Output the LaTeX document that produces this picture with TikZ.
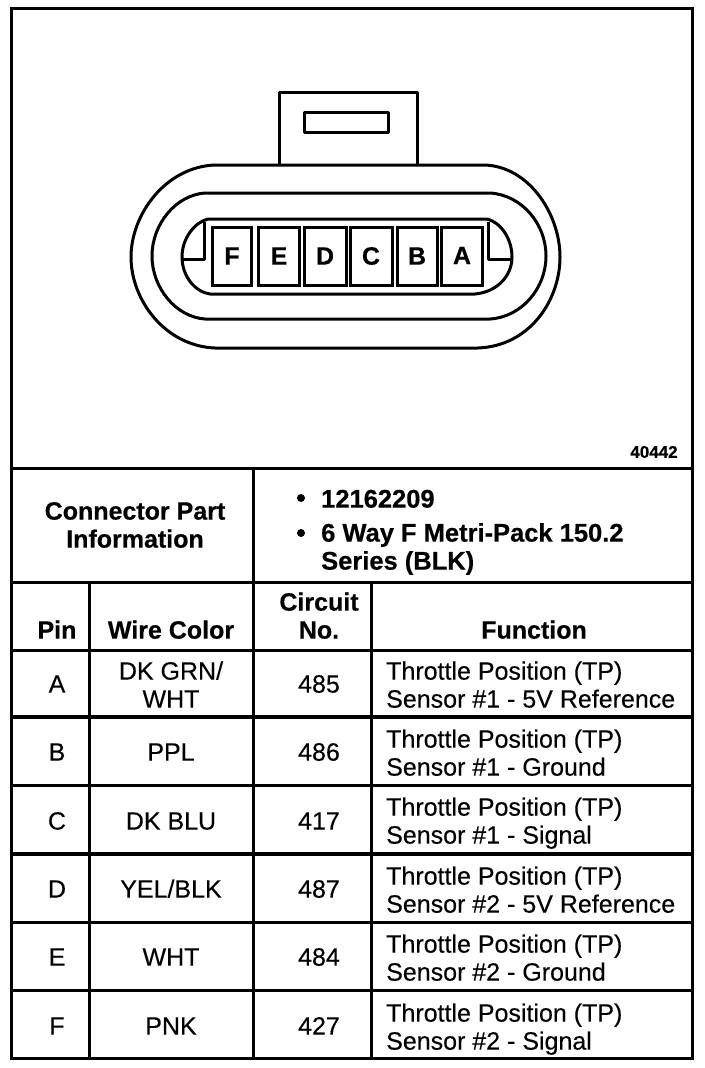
\documentclass[tikz,border=0pt]{standalone}
\usepackage{fontspec}
\setmainfont{Liberation Sans}
\newfontfamily\heavy[FakeBold=0.25]{Liberation Sans}
\newfontfamily\heavybold[FakeBold=0.5]{Liberation Sans Bold}
\newcommand{\fs}[1]{\fontsize{#1}{28}\selectfont}
\tikzset{
  rule/.style={line width=3pt},
  outline/.style={line width=3pt,line join=round},
  pinbox/.style={draw,line width=3pt,inner sep=0pt,minimum height=58pt,font=\fs{25}\heavybold},
  head/.style={font=\fs{25}\heavybold,align=center,inner sep=0pt},
  boldtext/.style={font=\fs{25.5}\heavybold,align=left,anchor=west,inner sep=0pt},
  cell/.style={font=\fs{25}\heavy,align=center,inner sep=0pt},
  func/.style={font=\fs{25}\heavy,align=left,anchor=west,inner sep=0pt},
  bullet/.style={circle,fill=black,inner sep=0pt,minimum size=8pt},
}
\begin{document}
\begin{tikzpicture}[x=1pt,y=-1pt]
\useasboundingbox (0,0) rectangle (704,1068);
% table rules
\draw[rule] (11,468) -- (692,468);
\draw[rule] (11,582) -- (692,582);
\draw[rule] (11,650) -- (692,650);
\draw[rule,line width=4pt] (11,717) -- (692,717);
\draw[rule] (11,785) -- (692,785);
\draw[rule,line width=4pt] (11,854) -- (692,854);
\draw[rule] (11,922) -- (692,922);
\draw[rule] (11,990) -- (692,990);
\draw[rule] (253,468) -- (253,1058);
\draw[rule] (89,582) -- (89,1058);
\draw[rule] (371,582) -- (371,1058);
\draw[rule] (11,8) rectangle (692,1058);
% tab
\draw[outline] (279,165) -- (279,92) -- (417,92) -- (417,165);
\draw[outline] (304,112) rectangle (388,132);
% outer body
\draw[outline] (215,165) -- (485,165)
  .. controls (530,167) and (560,215) .. (560,257)
  .. controls (560,300) and (530,346) .. (478,348)
  -- (215,348)
  .. controls (165,346) and (131,300) .. (131,257)
  .. controls (131,215) and (165,167) .. (215,165) -- cycle;
% middle ring
\draw[outline] (205,193) -- (490,193)
  .. controls (522,195) and (546,224) .. (546,256)
  .. controls (546,288) and (522,317) .. (490,319)
  -- (205,319)
  .. controls (176,317) and (152,288) .. (152,256)
  .. controls (152,224) and (176,195) .. (205,193) -- cycle;
% inner ring
\draw[outline] (208,219) -- (487,219)
  .. controls (500,222) and (512,238) .. (512,257)
  .. controls (512,276) and (497,292) .. (475,294)
  -- (210,294)
  .. controls (195,292) and (182,276) .. (182,257)
  .. controls (182,238) and (195,222) .. (208,219) -- cycle;
\draw[outline] (182,259) -- (204,259) -- (204,222);
\draw[outline] (488,222) -- (488,259) -- (511,259);
% pins
\node[pinbox,minimum width=39pt] (pF) at (232,256) {F};
\node[pinbox,minimum width=41pt] (pE) at (279,256) {E};
\node[pinbox,minimum width=42pt] (pD) at (325,256) {D};
\node[pinbox,minimum width=42pt] (pC) at (371,256) {\raisebox{-2pt}{C}};
\node[pinbox,minimum width=40pt] (pB) at (417,256) {B};
\node[pinbox,minimum width=41pt] (pA) at (462,256) {\raisebox{1pt}{A}};
% drawing number
\node[font=\fs{17}\heavybold,inner sep=0pt] (num) at (654,452) {40442};
% header
\node[head] (cpi) at (135,528) {\strut Connector Part\\\strut Information};
\node[bullet] (b1) at (301,498) {};
\node[boldtext] (pn) at (321,502) {\strut 12162209};
\node[bullet] (b2) at (301,533) {};
\node[boldtext] (ty) at (321,550) {\strut 6 Way F Metri-Pack 150.2\\\strut Series (BLK)};
% column heads
\node[head] (hp) at (57,633) {\strut Pin};
\node[head] (hw) at (171,633) {\strut Wire Color};
\node[head] (hc) at (319,619) {\strut Circuit\\\strut No.};
\node[head] (hf) at (534,633) {\strut Function};
% rows
\node[cell] (a1) at (57,687) {\strut A};
\node[cell] (a2) at (171,688) {\strut DK GRN/\\\strut WHT};
\node[cell] (a3) at (319,687) {\strut 485};
\node[func] (a4) at (386,688) {\strut Throttle Position (TP)\\\strut Sensor \#1 - 5V Reference};
\node[cell] (b1c) at (57,755) {\strut B};
\node[cell] (b2c) at (171,755) {\strut PPL};
\node[cell] (b3c) at (319,755) {\strut 486};
\node[func] (b4c) at (386,756) {\strut Throttle Position (TP)\\\strut Sensor \#1 - Ground};
\node[cell] (c1) at (57,824) {\strut C};
\node[cell] (c2) at (171,824) {\strut DK BLU};
\node[cell] (c3) at (319,824) {\strut 417};
\node[func] (c4) at (386,824) {\strut Throttle Position (TP)\\\strut Sensor \#1 - Signal};
\node[cell] (d1) at (57,892) {\strut D};
\node[cell] (d2) at (171,892) {\strut YEL/BLK};
\node[cell] (d3) at (319,892) {\strut 487};
\node[func] (d4) at (386,893) {\strut Throttle Position (TP)\\\strut Sensor \#2 - 5V Reference};
\node[cell] (e1) at (57,960) {\strut E};
\node[cell] (e2) at (171,960) {\strut WHT};
\node[cell] (e3) at (319,960) {\strut 484};
\node[func] (e4) at (386,961) {\strut Throttle Position (TP)\\\strut Sensor \#2 - Ground};
\node[cell] (f1) at (57,1029) {\strut F};
\node[cell] (f2) at (171,1029) {\strut PNK};
\node[cell] (f3) at (319,1029) {\strut 427};
\node[func] (f4) at (386,1030) {\strut Throttle Position (TP)\\\strut Sensor \#2 - Signal};
\end{tikzpicture}
\end{document}
